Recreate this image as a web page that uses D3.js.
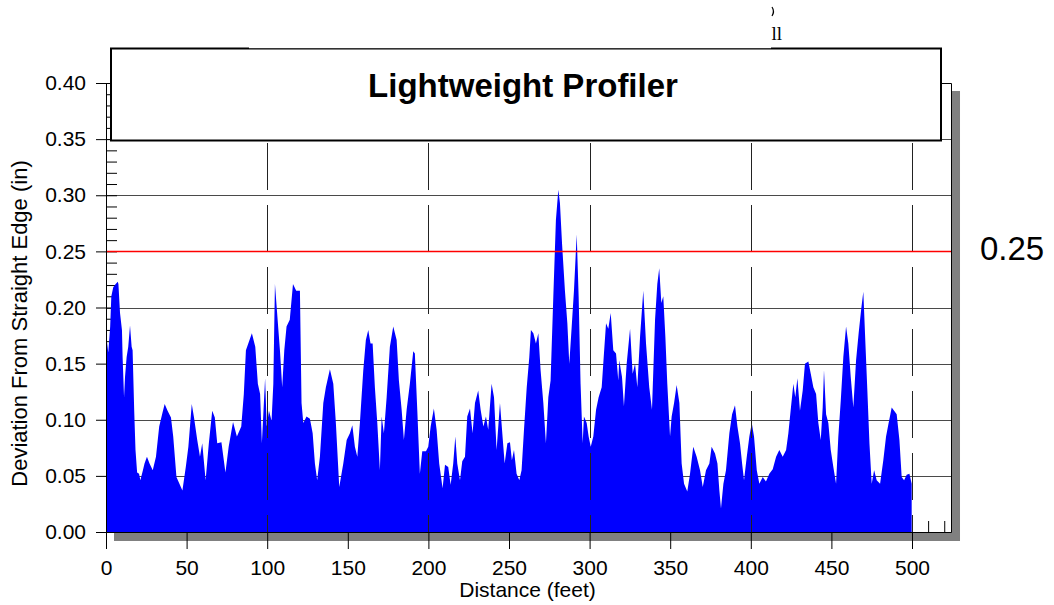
<!DOCTYPE html>
<html><head><meta charset="utf-8">
<script src="https://cdn.jsdelivr.net/npm/d3@7"></script>
<style>body{margin:0;background:#fff}svg{display:block}</style>
</head><body>
<svg id="c" width="1054" height="605"></svg>
<script>
// ---- data ----
const distance = [0,1.4,2.6,3.3,4.5,6,7.3,7.7,8.7,9.9,10.3,11.2,11.8,12.8,13.8,14.9,15.9,16.5,17.5,18.3,19.3,20.5,21.3,22.9,23.9,25.4,27,29,31,33,35,36.4,38.2,40.3,41.7,43.7,47.4,49.5,51.1,53.2,54.6,56.6,58.3,59.7,61.8,63.8,65.9,67.5,69,71.6,74.1,76.1,78.8,81.2,83.9,85.5,86.8,90.5,92.6,94.2,95.6,96.7,98.7,99.7,101.1,102.7,103.8,104.8,107.9,109.3,110.6,112,114,116,118,120.3,
121.3,122.4,124.4,126.5,128.2,129.6,131,132.7,134.8,136.4,138.9,141,142.6,144.7,147.2,149.3,151.3,152.8,154.4,155.9,157.5,159.6,161.2,162.7,164.1,165.4,166.8,168.3,169.9,171,172.4,174.1,176.1,178.2,180.3,181.7,183.4,184.8,186.5,188.5,190.6,191.6,193.1,194.7,196.2,198.5,199.9,201.4,203.4,205.1,206.7,208.8,210.3,212.3,213.8,215.4,216.7,217.9,219.6,221,222.7,224.1,225.8,227.4,228.9,230.9,232.4,234.1,235.7,237.1,239.2,240.7,242.3,
244.4,246,247.3,249,250.6,251.8,253.1,254.7,256.4,257.8,259.3,261,262.6,263.6,265.1,266.7,268.2,269.6,271.3,272.9,274.4,275.8,277.5,279.1,280.6,281.6,282.9,284.7,286.2,287.4,288.9,290.3,292,293.2,294.4,295.7,296.5,298.2,299.4,300.7,302.3,304,305.6,307.5,308.9,310.2,311.6,313.1,314.7,316.4,317.8,318.4,320.1,321.3,323,325.1,326.7,328.2,329.6,331.3,333.3,335,337,338.7,340.6,342,343.2,344.5,345.7,347,348.2,349.9,350.9,352.4,354,355.7,357.1,358.6,360.6,362.3,364.3,366.4,368.5,
370.2,372.2,374.3,375.7,377.8,379.3,380.5,381.5,383,384.6,386.7,388.4,390.2,391.7,393.3,394.6,395.8,397.5,399.1,400.6,402,403.7,405.3,407.4,409.4,411.5,413.6,415.7,417.7,419.8,421.9,423.3,424.7,426.4,427.6,428.9,430.5,432.2,433.6,435.7,437.2,438.8,440.5,441.9,443.4,444.6,445.4,446.7,448.1,449.6,451.2,452.9,454.3,455.8,457.4,459.1,460.5,462,463.6,465.3,466.9,468.6,469.8,471.1,472.3,473.6,475,476.5,478.1,480.2,482.2,483.9,485.5,487.4,488.9,490.5,492.2,493.6,495.1,496.7,498.4,499.8];
const deviation = [0.177,0.160,0.183,0.210,0.218,0.221,0.223,0.221,0.195,0.180,0.156,0.120,0.138,0.156,0.165,0.184,0.165,0.162,0.108,0.073,0.053,0.052,0.046,0.055,0.061,0.067,0.061,0.055,0.067,0.094,0.106,0.114,0.108,0.102,0.085,0.049,0.037,0.058,0.076,0.114,0.102,0.082,0.067,0.079,0.046,0.079,0.108,0.102,0.079,0.080,0.053,0.076,0.098,0.085,0.094,0.123,0.162,0.177,0.165,0.132,0.123,0.079,0.137,0.094,0.108,0.099,0.132,0.221,0.162,0.129,0.162,0.183,0.189,0.221,0.215,0.215,
0.115,0.097,0.103,0.101,0.088,0.061,0.046,0.067,0.115,0.129,0.145,0.132,0.097,0.040,0.061,0.082,0.088,0.095,0.076,0.067,0.097,0.144,0.171,0.180,0.168,0.168,0.129,0.097,0.055,0.103,0.088,0.120,0.165,0.183,0.171,0.135,0.109,0.082,0.109,0.132,0.161,0.159,0.109,0.052,0.072,0.072,0.076,0.094,0.110,0.091,0.061,0.039,0.060,0.058,0.042,0.061,0.085,0.061,0.046,0.063,0.067,0.103,0.110,0.088,0.115,0.126,0.109,0.094,0.103,0.091,0.132,0.120,0.073,
0.115,0.085,0.061,0.079,0.080,0.064,0.073,0.052,0.046,0.055,0.091,0.129,0.156,0.180,0.177,0.168,0.177,0.144,0.115,0.079,0.120,0.135,0.210,0.278,0.305,0.293,0.257,0.215,0.186,0.150,0.183,0.215,0.265,0.210,0.132,0.079,0.103,0.097,0.085,0.076,0.085,0.109,0.120,0.129,0.159,0.186,0.181,0.195,0.162,0.159,0.135,0.153,0.138,0.112,0.150,0.181,0.141,0.150,0.129,0.174,0.215,0.168,0.129,0.109,0.189,0.221,0.235,0.204,0.210,0.174,0.132,0.085,0.103,0.115,0.131,0.115,0.061,0.043,0.036,0.052,0.076,0.067,0.055,
0.040,0.055,0.061,0.076,0.070,0.061,0.037,0.021,0.043,0.055,0.088,0.105,0.113,0.094,0.079,0.061,0.046,0.067,0.085,0.097,0.085,0.055,0.043,0.049,0.045,0.052,0.056,0.067,0.073,0.067,0.073,0.088,0.108,0.132,0.120,0.137,0.108,0.126,0.150,0.152,0.141,0.129,0.123,0.097,0.082,0.111,0.144,0.105,0.097,0.073,0.058,0.043,0.085,0.117,0.156,0.183,0.168,0.138,0.111,0.153,0.177,0.200,0.214,0.168,0.126,0.079,0.043,0.055,0.046,0.043,0.064,0.085,0.097,0.111,0.108,0.105,0.082,0.049,0.046,0.051,0.052,0.043];
const xTicks = [0,50,100,150,200,250,300,350,400,450,500];
const xGrid = [100,200,300,400,500];
const yTicks = [0,0.05,0.10,0.15,0.20,0.25,0.30,0.35,0.40];
const yGrid = [0.05,0.10,0.15,0.20,0.25,0.30,0.35];
const threshold = 0.25;
const xMaxFrame = 524.2;
const titleText = "Lightweight Profiler";
const xLabel = "Distance (feet)";
const yLabel = "Deviation From Straight Edge (in)";
const thresholdLabel = "0.25";

const points = distance.map((d, i) => ({d, v: deviation[i]}));
const svg = d3.select("#c");
const FONT = "'Liberation Sans', Arial, Helvetica, sans-serif";

const x = d3.scaleLinear().domain([0, 500]).range([106, 912]);
const y = d3.scaleLinear().domain([0, 0.4]).range([532, 83]);
const L = x(0), R = x(xMaxFrame), T = y(0.4), B = y(0);
const px = v => Math.round(v) + 0.5;

// shadow
svg.append("rect").attr("x", L + 8).attr("y", T + 8)
  .attr("width", R - L + 1).attr("height", B - T + 1).attr("fill", "#808080");
// plot frame background
svg.append("rect").attr("x", L).attr("y", T)
  .attr("width", R - L).attr("height", B - T).attr("fill", "#fff");

// horizontal grid
svg.append("g").selectAll("line").data(yGrid).join("line")
  .attr("x1", L).attr("x2", R)
  .attr("y1", d => px(y(d))).attr("y2", d => px(y(d)))
  .attr("stroke", "#4a4a4a").attr("stroke-width", 1);

// inner minor ticks (under the data)
const yMinor = d3.range(0, 41).map(i => i / 100);
const xMinor = d3.range(0, 53).map(i => i * 10);
svg.append("g").attr("transform", `translate(${L},0)`)
  .call(d3.axisLeft(y).tickValues(yMinor).tickSize(-11).tickSizeOuter(0).tickFormat(""))
  .call(g => g.select(".domain").remove());
svg.append("g").attr("transform", `translate(0,${B})`)
  .call(d3.axisBottom(x).tickValues(xMinor.filter(v => v <= xMaxFrame)).tickSize(-11).tickSizeOuter(0).tickFormat(""))
  .call(g => g.select(".domain").remove());

// data fill
const area = d3.area().x(p => x(p.d)).y0(y(0)).y1(p => y(p.v)).curve(d3.curveLinear);
svg.append("path").datum(points).attr("d", area).attr("fill", "#0000ff");

// vertical dashed grid
svg.append("g").selectAll("line").data(xGrid).join("line")
  .attr("x1", d => px(x(d))).attr("x2", d => px(x(d)))
  .attr("y1", T).attr("y2", B)
  .attr("stroke", "#222").attr("stroke-width", 1)
  .attr("stroke-dasharray", "47,15").attr("stroke-dashoffset", 2);

// threshold line
svg.append("line").attr("x1", L).attr("x2", R)
  .attr("y1", px(y(threshold))).attr("y2", px(y(threshold)))
  .attr("stroke", "#ff0000").attr("stroke-width", 1.3);

// frame border (top/right/bottom)
svg.append("path")
  .attr("d", `M${L},${px(T)}H${px(R)}V${px(B)}H${L}`)
  .attr("fill", "none").attr("stroke", "#000").attr("stroke-width", 1);

// left axis with outward major ticks
const yAxis = svg.append("g").attr("transform", `translate(${L},0)`)
  .call(d3.axisLeft(y).tickValues(yTicks).tickSize(10).tickSizeOuter(0).tickPadding(10)
    .tickFormat(d3.format(".2f")));
yAxis.select(".domain").remove();
yAxis.selectAll("text").attr("font-family", FONT).attr("font-size", 21).attr("fill", "#000");
yAxis.selectAll("line").attr("stroke", "#000");

// bottom axis with outward major ticks
const xAxis = svg.append("g").attr("transform", `translate(0,${B})`)
  .call(d3.axisBottom(x).tickValues(xTicks).tickSize(17).tickSizeOuter(0).tickPadding(11));
xAxis.select(".domain").remove();
xAxis.selectAll("text").attr("font-family", FONT).attr("font-size", 21).attr("fill", "#000");

// axis lines
svg.append("line").attr("x1", px(L)).attr("x2", px(L)).attr("y1", T).attr("y2", B + 17)
  .attr("stroke", "#000");
svg.append("line").attr("x1", L - 10).attr("x2", R).attr("y1", px(B)).attr("y2", px(B))
  .attr("stroke", "#000");

// title box
svg.append("rect").attr("x", 111).attr("y", 48.5).attr("width", 830).attr("height", 92)
  .attr("fill", "#fff").attr("stroke", "#000").attr("stroke-width", 2);
svg.append("rect").attr("x", 249).attr("y", 20).attr("width", 522).attr("height", 28.2).attr("fill", "#fff");
svg.append("text").attr("x", 523).attr("y", 96.5).attr("text-anchor", "middle")
  .attr("font-family", FONT).attr("font-weight", "bold").attr("font-size", 33).text(titleText);

// stray text fragment at top
svg.append("text").attr("x", 771.5).attr("y", 39.5)
  .attr("font-family", "'Liberation Serif', 'Times New Roman', serif").attr("font-size", 19).text("ll");
svg.append("path").attr("d", "M772,7 Q775,11.5 772,16").attr("fill", "none").attr("stroke", "#000").attr("stroke-width", 1.2);

// axis titles
svg.append("text").attr("x", 527.5).attr("y", 597).attr("text-anchor", "middle")
  .attr("font-family", FONT).attr("font-size", 21).text(xLabel);
svg.append("text").attr("transform", "translate(27,323.5) rotate(-90)").attr("text-anchor", "middle")
  .attr("font-family", FONT).attr("font-size", 22).text(yLabel);

// threshold label
svg.append("text").attr("x", 980).attr("y", y(threshold) + 9)
  .attr("font-family", FONT).attr("font-size", 33).text(thresholdLabel);
</script>
</body></html>
